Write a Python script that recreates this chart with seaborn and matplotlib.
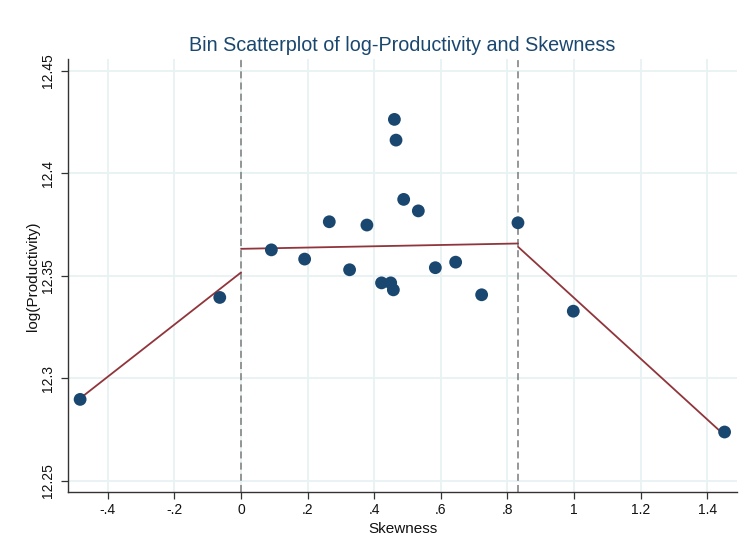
import matplotlib
matplotlib.use("Agg")
import matplotlib.pyplot as plt
import numpy as np
import pandas as pd
import seaborn as sns

# Bin means (20 bins) of skewness and log productivity
skew_bins = [-0.4835, -0.064, 0.091, 0.191, 0.265, 0.326, 0.378, 0.422, 0.4495, 0.4575,
             0.4606, 0.4655, 0.4885, 0.5325, 0.5836, 0.6446, 0.7227, 0.8318, 0.998, 1.4525]
logprod_bins = [12.2898, 12.3395, 12.3627, 12.3582, 12.3764, 12.3530, 12.3748, 12.3466, 12.3466, 12.3432,
                12.4263, 12.4162, 12.3873, 12.3817, 12.3540, 12.3567, 12.3408, 12.3759, 12.3328, 12.2739]

# Piecewise linear fit, knots at 0 and 0.832
knots = [0.0, 0.832]
seg_x = [[-0.4835, 0.0], [0.0, 0.832], [0.832, 1.4525]]
seg_y = [[12.2903, 12.3517], [12.3632, 12.3658], [12.3642, 12.2723]]

x_ticks = [-0.4, -0.2, 0, 0.2, 0.4, 0.6, 0.8, 1, 1.2, 1.4]
x_labels = ["-.4", "-.2", "0", ".2", ".4", ".6", ".8", "1", "1.2", "1.4"]
y_ticks = [12.25, 12.3, 12.35, 12.4, 12.45]
y_labels = ["12.25", "12.3", "12.35", "12.4", "12.45"]

sns.set_style("white")
plt.rcParams["font.family"] = ["Liberation Sans", "DejaVu Sans"]

navy = "#1a476f"
maroon = "#90353b"
grid_col = "#e8f2f2"

fig = plt.figure(figsize=(7.53, 5.40), dpi=100)
ax = fig.add_axes([0.0907, 0.0883, 0.8877, 0.8019])

ax.set_xlim(-0.519, 1.489)
ax.set_ylim(12.2445, 12.4556)

ax.set_xticks(x_ticks)
ax.set_xticklabels(x_labels)
ax.set_yticks(y_ticks)
ax.set_yticklabels(y_labels, rotation=90, va="center")
ax.grid(True, color=grid_col, linewidth=1.3, zorder=0)
ax.set_axisbelow(True)

for k in knots:
    ax.axvline(k, color="#808080", linewidth=1.15, linestyle=(0, (4.4, 2.6)), zorder=1)

for sx, sy in zip(seg_x, seg_y):
    sns.lineplot(x=sx, y=sy, ax=ax, color=maroon, linewidth=1.3, zorder=2)

df = pd.DataFrame({"Skewness": skew_bins, "logprod": logprod_bins})
sns.scatterplot(data=df, x="Skewness", y="logprod", ax=ax, color=navy, s=85,
                edgecolor="none", zorder=3)

for side in ["top", "right"]:
    ax.spines[side].set_visible(False)
for side in ["left", "bottom"]:
    ax.spines[side].set_color("#333333")
    ax.spines[side].set_linewidth(1.0)

ax.tick_params(axis="both", which="major", direction="out", length=5, width=0.9,
               color="#333333", labelsize=10, labelcolor="#111111", pad=3,
               left=True, bottom=True)
ax.tick_params(axis="y", pad=4.5)

ax.set_xlabel("Skewness", fontsize=11, color="#111111", labelpad=3)
ax.set_ylabel("log(Productivity)", fontsize=11, color="#111111", labelpad=0.5)
ax.set_title("Bin Scatterplot of log-Productivity and Skewness", fontsize=14.2,
             color=navy, pad=6)

fig.savefig("out.png", dpi=100, facecolor="white")
